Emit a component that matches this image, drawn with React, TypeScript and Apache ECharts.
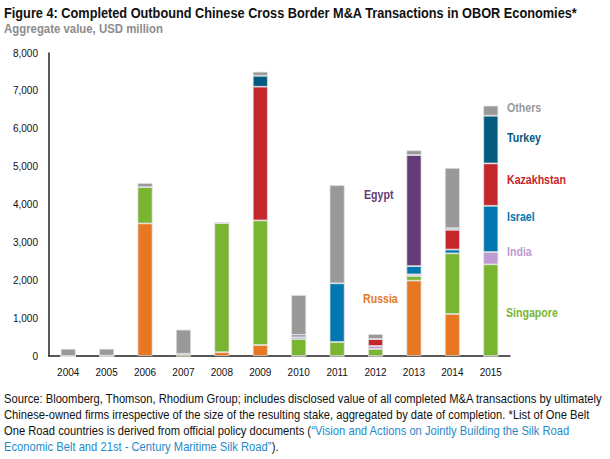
import React, { useEffect, useRef } from "react";
import * as echarts from "echarts";

const years = ["2004", "2005", "2006", "2007", "2008", "2009", "2010", "2011", "2012", "2013", "2014", "2015"];
const russia = [0, 0, 3500, 0, 100, 290, 0, 0, 0, 1990, 1110, 0];
const singapore = [0, 10, 960, 60, 3410, 3290, 450, 370, 185, 120, 1600, 2420];
const india = [0, 0, 0, 0, 0, 0, 0, 0, 80, 45, 0, 325];
const israel = [0, 0, 0, 0, 0, 0, 50, 1550, 0, 220, 100, 1220];
const kazakhstan = [0, 0, 0, 0, 0, 3530, 0, 0, 185, 0, 520, 1120];
const turkey = [0, 0, 0, 0, 0, 290, 0, 0, 0, 0, 45, 1260];
const egypt = [0, 0, 0, 0, 0, 0, 60, 0, 0, 2930, 0, 0];
const others = [190, 180, 105, 635, 0, 106, 1050, 2590, 130, 125, 1590, 265];
const yTicks = [0, 1000, 2000, 3000, 4000, 5000, 6000, 7000, 8000];

const seriesDefs = [
  { name: "Russia", data: russia, color: "#E87722" },
  { name: "Singapore", data: singapore, color: "#7AB531" },
  { name: "India", data: india, color: "#C09BD3" },
  { name: "Israel", data: israel, color: "#0077B0" },
  { name: "Kazakhstan", data: kazakhstan, color: "#C4262A" },
  { name: "Turkey", data: turkey, color: "#055A80" },
  { name: "Egypt", data: egypt, color: "#643C77" },
  { name: "Others", data: others, color: "#999999" },
];

const FAM = '"Liberation Sans", Arial, sans-serif';
const TITLE = "Figure 4: Completed Outbound Chinese Cross Border M&A Transactions in OBOR Economies*";
const SUBTITLE = "Aggregate value, USD million";
const NOTE1 = "Source: Bloomberg, Thomson, Rhodium Group; includes disclosed value of all completed M&A transactions by ultimately";
const NOTE2 = "Chinese-owned firms irrespective of the size of the resulting stake, aggregated by date of completion. *List of One Belt";
const NOTE3A = "One Road countries is derived from official policy documents (";
const NOTE3B = "\u201CVision and Actions on Jointly Building the Silk Road";
const NOTE4A = "Economic Belt and 21st - Century Maritime Silk Road\u201D";
const NOTE4B = ").";

function measure(text: string, font: string): number {
  const c = document.createElement("canvas").getContext("2d");
  if (!c) return text.length * 6;
  c.font = font;
  return c.measureText(text).width;
}

export default function App() {
  const ref = useRef<HTMLDivElement>(null);
  useEffect(() => {
    if (!ref.current) return;
    const chart = echarts.init(ref.current, null, { renderer: "svg" });

    const titleFont = `bold 15px ${FAM}`;
    const subFont = `bold 12.5px ${FAM}`;
    const labFont = `bold 12.5px ${FAM}`;
    const noteFont = `12.5px ${FAM}`;
    const titleScale = 574 / measure(TITLE, titleFont);
    const subScale = 159 / measure(SUBTITLE, subFont);
    const labScale = 59 / measure("Kazakhstan", labFont);
    const noteScale = 599 / measure(NOTE1, noteFont);

    const scaledText = (text: string, x: number, y: number, font: string, color: string, scale: number, rich?: any) => ({
      type: "text",
      x,
      y,
      scaleX: scale,
      scaleY: 1,
      style: { text, x: 0, y: 0, fill: color, font, align: "left", verticalAlign: "middle", rich },
    });

    const labels = [
      ["Others", 507, 108, "#999999"],
      ["Turkey", 507, 138, "#055A80"],
      ["Kazakhstan", 507, 180, "#C4262A"],
      ["Israel", 507, 217, "#0077B0"],
      ["India", 507, 252, "#C09BD3"],
      ["Singapore", 506, 313, "#7AB531"],
      ["Egypt", 364, 195, "#643C77"],
      ["Russia", 363, 299, "#E87722"],
    ] as const;

    const blue = "#1F8AC9";
    const noteRich = {
      k: { fill: "#111", font: noteFont },
      b: { fill: blue, font: noteFont },
    };

    chart.setOption({
      animation: false,
      backgroundColor: "#fff",
      grid: { left: 49, right: 100, top: 53, bottom: 103, containLabel: false },
      xAxis: {
        type: "category",
        data: years,
        axisLine: { show: true, lineStyle: { color: "#222", width: 1.5 } },
        axisTick: { show: false },
        axisLabel: { color: "#111", fontSize: 10, margin: 11, fontFamily: FAM },
      },
      yAxis: {
        type: "value",
        min: 0,
        max: 8000,
        interval: 1000,
        axisLine: { show: true, lineStyle: { color: "#222", width: 1.5 } },
        axisTick: { show: false },
        splitLine: { show: false },
        axisLabel: {
          color: "#111",
          fontSize: 10,
          margin: 11,
          fontFamily: FAM,
          formatter: (v: number) => (yTicks.includes(v) ? v.toLocaleString("en-US") : ""),
        },
      },
      series: seriesDefs.map((s) => ({
        name: s.name,
        type: "bar",
        stack: "total",
        barWidth: 15,
        data: s.data,
        itemStyle: { color: s.color, borderColor: "rgba(225,225,225,0.9)", borderWidth: 0.8 },
      })),
      graphic: [
        scaledText(TITLE, 4, 13, titleFont, "#111", titleScale),
        scaledText(SUBTITLE, 4, 28.5, subFont, "#8c8c8c", subScale),
        ...labels.map(([t, x, y, c]) => scaledText(t, x, y, labFont, c, labScale)),
        scaledText(NOTE1, 4, 399, noteFont, "#111", noteScale),
        scaledText(NOTE2, 4, 415, noteFont, "#111", noteScale),
        scaledText(`{k|${NOTE3A}}{b|${NOTE3B}}`, 4, 431, noteFont, "#111", noteScale, noteRich),
        scaledText(`{b|${NOTE4A}}{k|${NOTE4B}}`, 4, 447, noteFont, "#111", noteScale, noteRich),
      ],
    });
    return () => chart.dispose();
  }, []);
  return <div ref={ref} style={{ width: 610, height: 459, position: "absolute", left: 0, top: 0 }} />;
}
